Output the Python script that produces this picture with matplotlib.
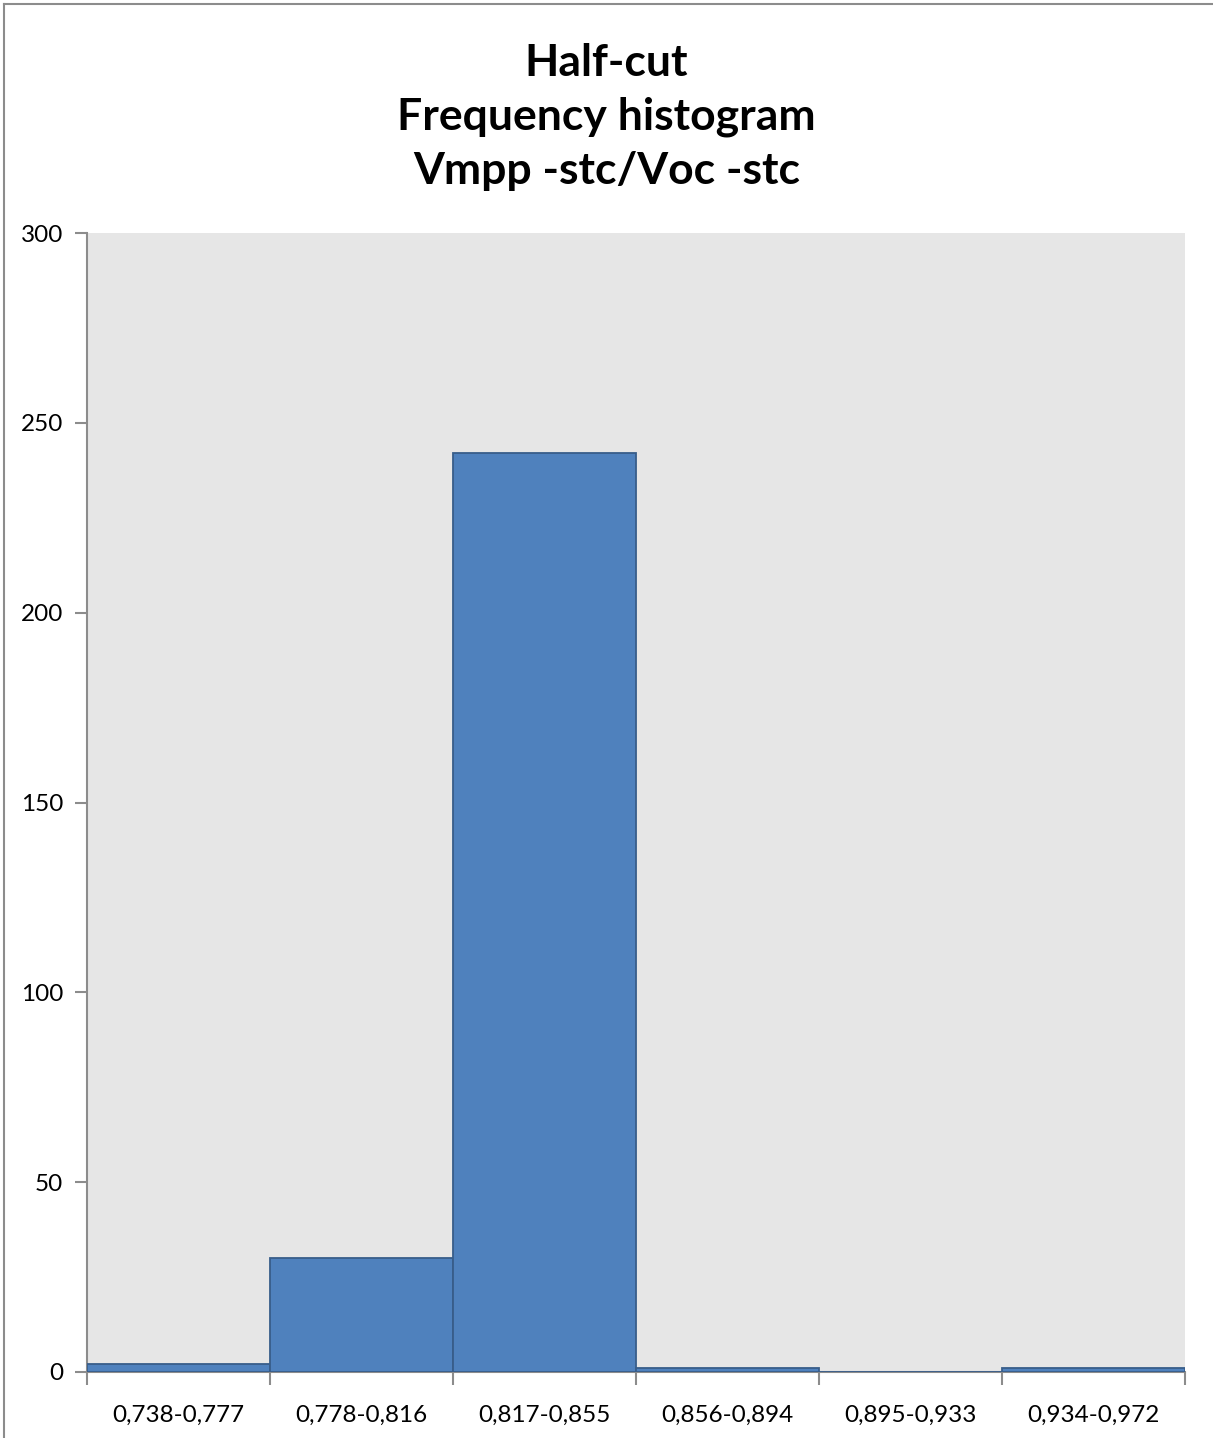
import numpy as np
import matplotlib.pyplot as plt
from matplotlib.lines import Line2D

# Bin labels and counts
bins = ["0,738-0,777", "0,778-0,816", "0,817-0,855",
        "0,856-0,894", "0,895-0,933", "0,934-0,972"]
counts = [2, 30, 242, 1, 0, 1]
y_ticks = [0, 50, 100, 150, 200, 250, 300]

plt.rcParams['font.family'] = ['Lato', 'DejaVu Sans']

fig = plt.figure(figsize=(12.13, 14.38), dpi=100)
ax = fig.add_axes([87/1213, 1 - 1372/1438, (1185 - 87)/1213, (1372 - 233)/1438])

# outer chart frame: only the left and top edges show in the image
fx, fy = 4/1213, 1 - 4/1438
fig.lines.append(Line2D([fx, fx], [0, fy], transform=fig.transFigure,
                        color='#8c8c8c', linewidth=1.5))
fig.lines.append(Line2D([fx, 1], [fy, fy], transform=fig.transFigure,
                        color='#8c8c8c', linewidth=1.5))

x = np.arange(len(bins))
ax.set_facecolor('#e6e6e6')
ax.bar(x, counts, width=1.0, color='#4f81bd', edgecolor='#385d8a', linewidth=1.3, zorder=3)

ax.set_xlim(-0.5, len(bins) - 0.5)
ax.set_ylim(0, 300)
ax.set_yticks(y_ticks)
ax.set_yticklabels([str(v) for v in y_ticks], fontsize=17.5)

# ticks on bin boundaries, labels centred below bars
ax.set_xticks(np.arange(-0.5, len(bins)), minor=False)
ax.set_xticklabels([])
ax.set_xticks(x, minor=True)
ax.set_xticklabels(bins, minor=True, fontsize=17.5)
ax.tick_params(axis='x', which='minor', length=0, pad=24)
ax.tick_params(axis='x', which='major', length=9, color='#8c8c8c', width=1.5, direction='out')
ax.tick_params(axis='y', length=9, color='#8c8c8c', width=1.5, direction='out', pad=8)

for side in ['top', 'right']:
    ax.spines[side].set_visible(False)
for side in ['left', 'bottom']:
    ax.spines[side].set_color('#8c8c8c')
    ax.spines[side].set_linewidth(1.5)

fig.text(0.5, 1 - 117/1438, "Half-cut\nFrequency histogram\nVmpp -stc/Voc -stc",
         ha='center', va='center', fontsize=32, fontweight='bold', linespacing=1.42)

fig.savefig('out.png', dpi=100)
